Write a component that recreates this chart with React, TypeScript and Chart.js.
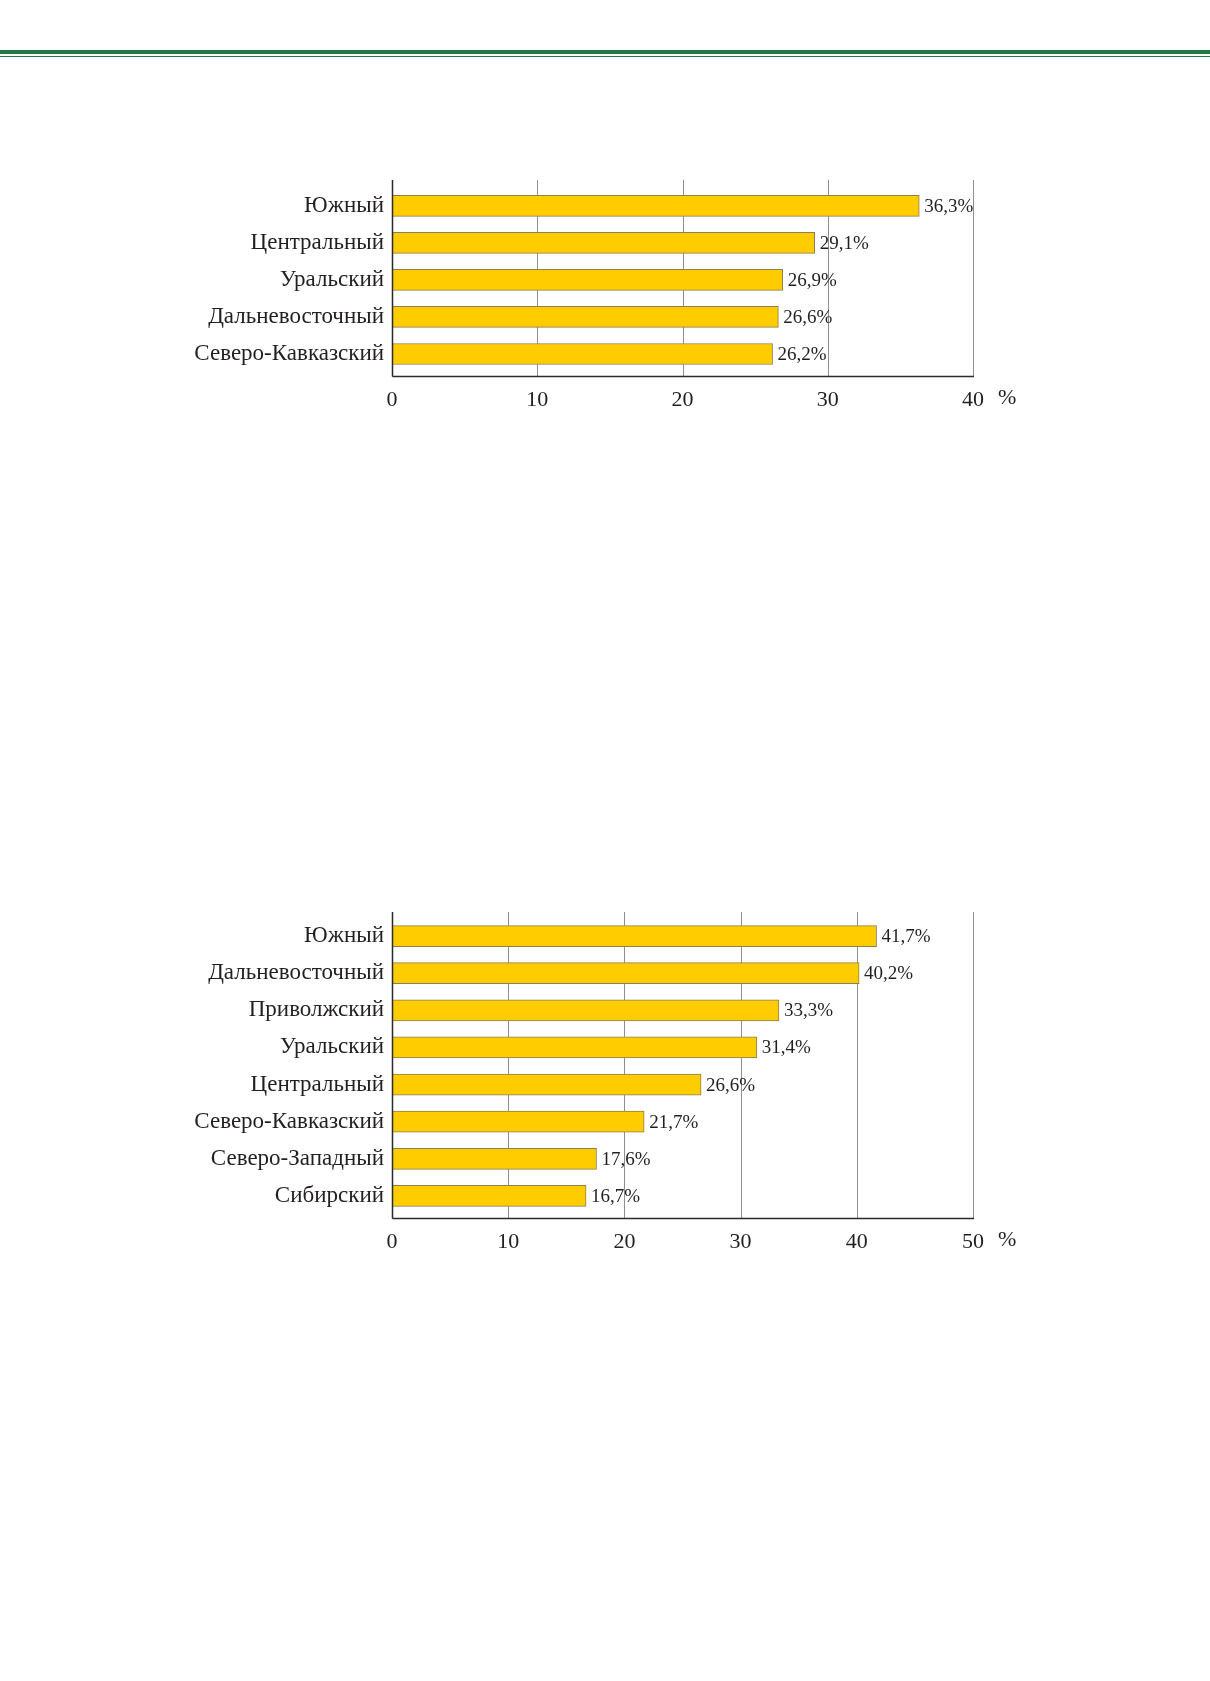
import React, { useEffect, useRef } from "react";
import { Chart, registerables } from "chart.js";

Chart.register(...registerables);

const FONT = "'Liberation Serif', 'Times New Roman', Times, serif";
const TEXT = "#231f20";
const GRID = "#8f8f8f";
const AXIS = "#2a2a2a";
const BAR_FILL = "#FFCC00";
const BAR_EDGE = "#8c7e52";

// Chart 1
const chart1Categories = ["Южный", "Центральный", "Уральский", "Дальневосточный", "Северо-Кавказский"];
const chart1Values = [36.3, 29.1, 26.9, 26.6, 26.2];
const chart1Max = 40;

// Chart 2
const chart2Categories = [
  "Южный",
  "Дальневосточный",
  "Приволжский",
  "Уральский",
  "Центральный",
  "Северо-Кавказский",
  "Северо-Западный",
  "Сибирский",
];
const chart2Values = [41.7, 40.2, 33.3, 31.4, 26.6, 21.7, 17.6, 16.7];
const chart2Max = 50;

const tickStep = 10;
const unitLabel = "%";

function fmt(v: number): string {
  return v.toFixed(1).replace(".", ",") + "%";
}

function makeDecor(extTop: number, extBottom: number) {
  return {
    id: "decor",
    beforeDatasetsDraw(chart: any) {
      const { ctx, chartArea } = chart;
      const xs = chart.scales.x;
      const top = chartArea.top;
      const axisY = Math.round(chartArea.bottom + extBottom) + 0.5;
      ctx.save();
      ctx.strokeStyle = GRID;
      ctx.lineWidth = 1;
      xs.ticks.forEach((t: any) => {
        const x = Math.round(xs.getPixelForValue(t.value)) + 0.5;
        ctx.beginPath();
        ctx.moveTo(x, top - extTop);
        ctx.lineTo(x, axisY);
        ctx.stroke();
      });
      ctx.restore();
    },
    afterDatasetsDraw(chart: any) {
      const { ctx, chartArea } = chart;
      const meta = chart.getDatasetMeta(0);
      const data = chart.data.datasets[0].data as number[];
      const top = chartArea.top;
      const left = chartArea.left;
      const right = chartArea.right;
      const axisY = Math.round(chartArea.bottom + extBottom) + 0.5;

      ctx.save();
      // value labels
      ctx.font = `19px ${FONT}`;
      ctx.fillStyle = TEXT;
      ctx.textBaseline = "middle";
      ctx.textAlign = "left";
      meta.data.forEach((bar: any, i: number) => {
        ctx.fillText(fmt(data[i]), bar.x + 5, bar.y + 1);
      });

      // axes
      ctx.strokeStyle = AXIS;
      ctx.lineWidth = 1.5;
      const lx = Math.round(left) + 0.5;
      ctx.beginPath();
      ctx.moveTo(lx, top - extTop);
      ctx.lineTo(lx, axisY);
      ctx.moveTo(lx, axisY);
      ctx.lineTo(Math.round(right) + 1, axisY);
      ctx.stroke();

      // unit label after the last tick
      ctx.font = `22px ${FONT}`;
      ctx.fillStyle = TEXT;
      ctx.textBaseline = "middle";
      ctx.fillText(unitLabel, right + 25, axisY + 22);
      ctx.restore();
    },
  };
}

function makeConfig(
  categories: string[],
  values: number[],
  max: number,
  pad: { top: number; bottom: number },
  ext: { top: number; bottom: number }
): any {
  return {
    type: "bar",
    data: {
      labels: categories,
      datasets: [
        {
          data: values,
          backgroundColor: BAR_FILL,
          borderColor: BAR_EDGE,
          borderWidth: 1,
          borderSkipped: false,
          barThickness: 21,
        },
      ],
    },
    options: {
      indexAxis: "y",
      responsive: false,
      animation: false,
      devicePixelRatio: 1,
      layout: { padding: { left: 0, right: 1210 - 973, top: pad.top, bottom: pad.bottom } },
      plugins: { legend: { display: false }, tooltip: { enabled: false } },
      scales: {
        x: {
          type: "linear",
          min: 0,
          max,
          ticks: {
            stepSize: tickStep,
            font: { family: FONT, size: 22 },
            color: TEXT,
            padding: 11 + ext.bottom,
          },
          grid: { display: false, drawTicks: false },
          border: { display: false },
          afterFit: (s: any) => {
            s.height = 40;
          },
        },
        y: {
          ticks: {
            font: { family: FONT, size: 23 },
            color: TEXT,
            padding: 8,
            autoSkip: false,
          },
          grid: { display: false, drawTicks: false },
          border: { display: false },
          afterFit: (s: any) => {
            s.width = 392;
          },
        },
      },
    },
    plugins: [makeDecor(ext.top, ext.bottom)],
  };
}

export default function App() {
  const ref1 = useRef<HTMLCanvasElement>(null);
  const ref2 = useRef<HTMLCanvasElement>(null);

  useEffect(() => {
    const c1 = new Chart(
      ref1.current!,
      makeConfig(chart1Categories, chart1Values, chart1Max, { top: 37.3, bottom: 7.5 }, { top: 7.3, bottom: 3.5 })
    );
    const c2 = new Chart(
      ref2.current!,
      makeConfig(chart2Categories, chart2Values, chart2Max, { top: 37.5, bottom: 25.5 }, { top: 5.5, bottom: 3.5 })
    );
    return () => {
      c1.destroy();
      c2.destroy();
    };
  }, []);

  return (
    <div
      style={{
        position: "absolute",
        left: 0,
        top: 0,
        width: 1210,
        height: 1681,
        background: "#ffffff",
        overflow: "hidden",
      }}
    >
      <div style={{ position: "absolute", left: 0, top: 50, width: 1210, height: 3.5, background: "#1f7a46" }} />
      <div style={{ position: "absolute", left: 0, top: 55.7, width: 1210, height: 1.3, background: "#1f7a46" }} />
      <canvas
        ref={ref1}
        width={1210}
        height={270}
        style={{ position: "absolute", left: 0, top: 150, width: 1210, height: 270 }}
      />
      <canvas
        ref={ref2}
        width={1210}
        height={400}
        style={{ position: "absolute", left: 0, top: 880, width: 1210, height: 400 }}
      />
    </div>
  );
}
